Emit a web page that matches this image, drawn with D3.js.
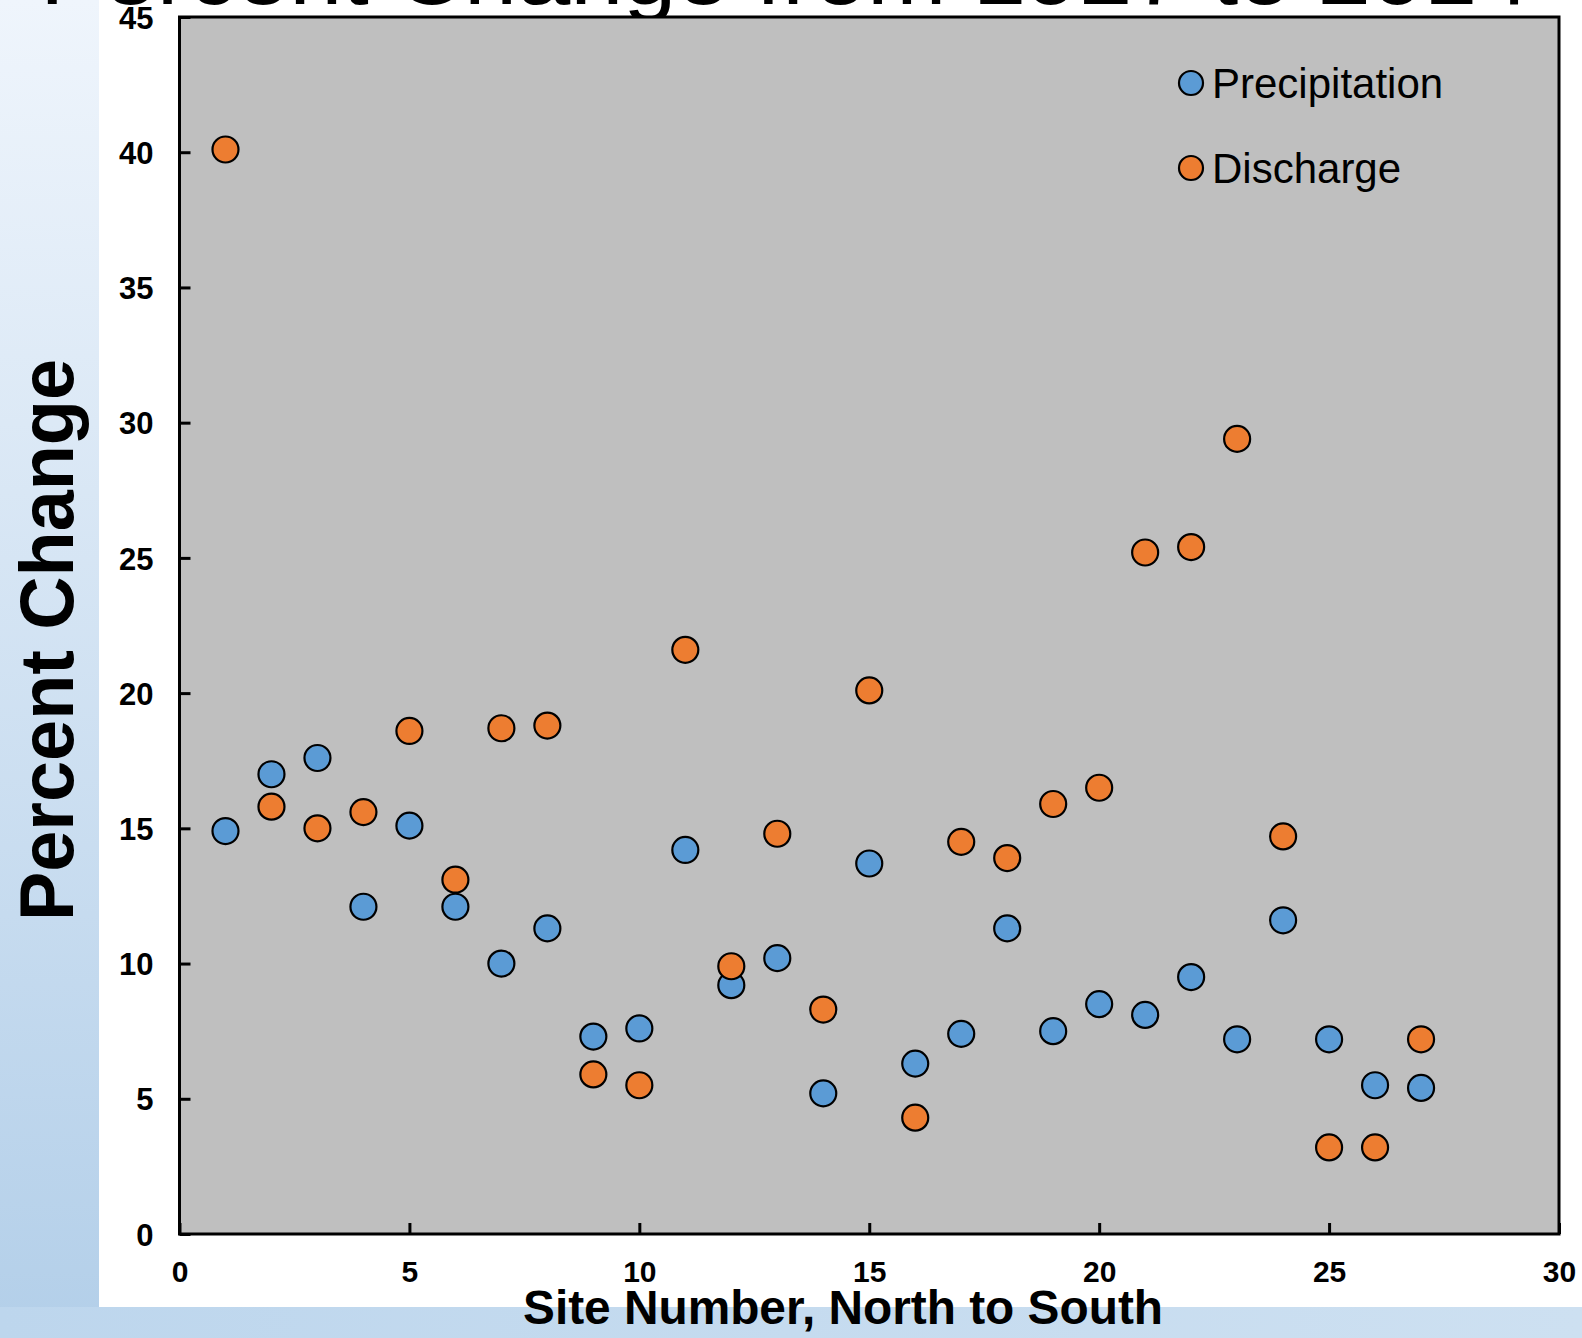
<!DOCTYPE html>
<html>
<head>
<meta charset="utf-8">
<script src="https://cdn.jsdelivr.net/npm/d3@7"></script>
<style>
  html, body { margin: 0; padding: 0; background: #fff; }
  svg { display: block; }
</style>
</head>
<body>
<div id="chart"></div>
<script>
const sites = [1,2,3,4,5,6,7,8,9,10,11,12,13,14,15,16,17,18,19,20,21,22,23,24,25,26,27];
const precipitation = [14.9,17.0,17.6,12.1,15.1,12.1,10.0,11.3,7.3,7.6,14.2,9.2,10.2,5.2,13.7,6.3,7.4,11.3,7.5,8.5,8.1,9.5,7.2,11.6,7.2,5.5,5.4];
const discharge = [40.1,15.8,15.0,15.6,18.6,13.1,18.7,18.8,5.9,5.5,21.6,9.9,14.8,8.3,20.1,4.3,14.5,13.9,15.9,16.5,25.2,25.4,29.4,14.7,3.2,3.2,7.2];
const xTicks = [0,5,10,15,20,25,30];
const yTicks = [0,5,10,15,20,25,30,35,40,45];
const seriesNames = ["Precipitation","Discharge"];
const seriesColors = ["#5B9BD5","#ED7D31"];
const titleText = "Percent Change from 1927 to 2014";
const xTitle = "Site Number, North to South";
const yTitle = "Percent Change";

(function () {
const W = 1582, H = 1338;
const svg = d3.select("#chart").append("svg").attr("width", W).attr("height", H);
const defs = svg.append("defs");
const g1 = defs.append("linearGradient").attr("id","bgGrad").attr("x1",0).attr("y1",0).attr("x2",0).attr("y2",1);
g1.append("stop").attr("offset","0%").attr("stop-color","#eff5fc");
g1.append("stop").attr("offset","100%").attr("stop-color","#b3cfe9");
const g2 = defs.append("linearGradient").attr("id","bandGrad").attr("x1",0).attr("y1",0).attr("x2",1).attr("y2",0);
g2.append("stop").attr("offset","0%").attr("stop-color","#bdd6ed");
g2.append("stop").attr("offset","100%").attr("stop-color","#cde0f1");

svg.append("rect").attr("x",0).attr("y",0).attr("width",W).attr("height",H).attr("fill","url(#bgGrad)");
svg.append("rect").attr("x",0).attr("y",1307).attr("width",W).attr("height",H-1307).attr("fill","url(#bandGrad)");
svg.append("rect").attr("x",99).attr("y",0).attr("width",W-99).attr("height",1307).attr("fill","#ffffff");

const pLeft = 179.5, pRight = 1559, pTop = 17, pBottom = 1234;
const x = d3.scaleLinear().domain([0,30]).range([pLeft,pRight]);
const y = d3.scaleLinear().domain([0,45]).range([pBottom,pTop]);

// title (partially clipped at top)
svg.append("text").attr("x",40).attr("y",4)
  .attr("font-family","Liberation Sans, Arial, sans-serif").attr("font-size",86)
  .attr("textLength",1490).attr("lengthAdjust","spacingAndGlyphs")
  .attr("fill","#000").text(titleText);

// plot background
svg.append("rect").attr("x",pLeft).attr("y",pTop).attr("width",pRight-pLeft).attr("height",pBottom-pTop)
  .attr("fill","#bfbfbf");

// axes
const xAxis = d3.axisBottom(x).tickValues(xTicks).tickSize(-11).tickPadding(0).tickFormat(d3.format("d"));
const yAxis = d3.axisLeft(y).tickValues(yTicks).tickSize(-11).tickPadding(0).tickFormat(d3.format("d"));

const gx = svg.append("g").attr("transform",`translate(0,${pBottom})`).call(xAxis);
gx.select(".domain").remove();
gx.selectAll(".tick line").attr("stroke","#000").attr("stroke-width",3);
gx.selectAll(".tick text").attr("y",48).attr("dy",0)
  .attr("font-family","Liberation Sans, Arial, sans-serif").attr("font-weight","bold").attr("font-size",30).attr("fill","#000");

const gy = svg.append("g").attr("transform",`translate(${pLeft},0)`).call(yAxis);
gy.select(".domain").remove();
gy.selectAll(".tick line").attr("stroke","#000").attr("stroke-width",3);
gy.selectAll(".tick text").attr("x",-26).attr("dy","0.36em")
  .attr("font-family","Liberation Sans, Arial, sans-serif").attr("font-weight","bold").attr("font-size",31).attr("fill","#000");

// frame
svg.append("rect").attr("x",pLeft).attr("y",pTop).attr("width",pRight-pLeft).attr("height",pBottom-pTop)
  .attr("fill","none").attr("stroke","#000").attr("stroke-width",3);

// points
const series = [precipitation, discharge];
series.forEach((vals, si) => {
  svg.append("g").selectAll("circle").data(vals).join("circle")
    .attr("cx",(d,i)=>x(sites[i])).attr("cy",d=>y(d)).attr("r",13)
    .attr("fill",seriesColors[si]).attr("stroke","#000").attr("stroke-width",2.2);
});

// legend
const legY = [83, 168];
seriesNames.forEach((name, i) => {
  svg.append("circle").attr("cx",1191).attr("cy",legY[i]).attr("r",12)
    .attr("fill",seriesColors[i]).attr("stroke","#000").attr("stroke-width",2.2);
  svg.append("text").attr("x",1212).attr("y",legY[i]+15)
    .attr("font-family","Liberation Sans, Arial, sans-serif").attr("font-size",42).attr("fill","#000")
    .text(name);
});

// axis titles
svg.append("text").attr("x",843).attr("y",1324).attr("text-anchor","middle")
  .attr("font-family","Liberation Sans, Arial, sans-serif").attr("font-weight","bold").attr("font-size",48)
  .attr("textLength",640).attr("lengthAdjust","spacingAndGlyphs")
  .attr("fill","#000").text(xTitle);

svg.append("text").attr("transform","translate(73,640) rotate(-90)").attr("text-anchor","middle")
  .attr("font-family","Liberation Sans, Arial, sans-serif").attr("font-weight","bold").attr("font-size",76)
  .attr("textLength",562).attr("lengthAdjust","spacingAndGlyphs")
  .attr("fill","#000").text(yTitle);
})();
</script>
</body>
</html>
